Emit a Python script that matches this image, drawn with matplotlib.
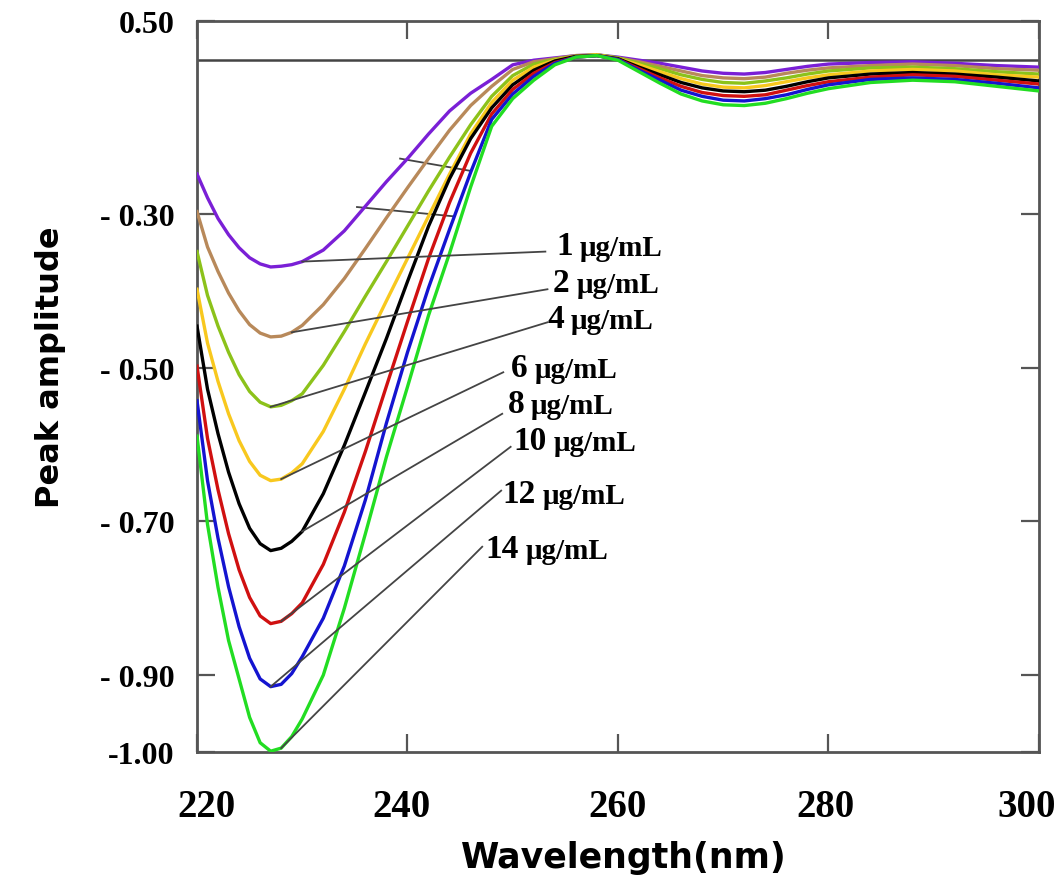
import matplotlib
matplotlib.use("Agg")
import matplotlib.pyplot as plt
import matplotlib.transforms as mtransforms

# wavelength grid (nm) and derivative amplitude
wavelength = [220, 221, 222, 223, 224, 225, 226, 227, 228, 229, 230, 232, 234, 236, 238,
              240, 242, 244, 246, 248, 250, 252, 254, 256, 258, 260, 262, 264, 266, 268,
              270, 272, 274, 276, 278, 280, 284, 288, 292, 296, 300]

amp_1 = [-0.248, -0.279, -0.306, -0.327, -0.344, -0.357, -0.365, -0.369, -0.368, -0.366,
         -0.362, -0.347, -0.322, -0.290, -0.258, -0.228, -0.196, -0.166, -0.143, -0.125,
         -0.106, -0.100, -0.097, -0.094, -0.093, -0.096, -0.100, -0.104, -0.109, -0.114,
         -0.117, -0.118, -0.116, -0.112, -0.108, -0.105, -0.103, -0.102, -0.104, -0.107, -0.109]
amp_2 = [-0.297, -0.343, -0.375, -0.403, -0.426, -0.444, -0.455, -0.460, -0.459, -0.454,
         -0.445, -0.418, -0.384, -0.345, -0.305, -0.266, -0.228, -0.191, -0.159, -0.134,
         -0.112, -0.102, -0.098, -0.094, -0.093, -0.097, -0.102, -0.108, -0.114, -0.120,
         -0.123, -0.124, -0.122, -0.117, -0.113, -0.110, -0.107, -0.105, -0.107, -0.111, -0.113]
amp_4 = [-0.349, -0.406, -0.446, -0.480, -0.509, -0.531, -0.545, -0.551, -0.549, -0.543,
         -0.534, -0.497, -0.453, -0.407, -0.362, -0.316, -0.270, -0.226, -0.184, -0.147,
         -0.120, -0.105, -0.099, -0.095, -0.093, -0.097, -0.104, -0.111, -0.119, -0.125,
         -0.129, -0.130, -0.127, -0.123, -0.118, -0.114, -0.110, -0.109, -0.111, -0.115, -0.118]
amp_6 = [-0.398, -0.468, -0.518, -0.560, -0.595, -0.622, -0.640, -0.647, -0.645, -0.637,
         -0.625, -0.583, -0.528, -0.469, -0.413, -0.358, -0.303, -0.248, -0.196, -0.155,
         -0.126, -0.109, -0.100, -0.095, -0.093, -0.098, -0.106, -0.115, -0.124, -0.131,
         -0.135, -0.136, -0.133, -0.128, -0.123, -0.119, -0.114, -0.112, -0.114, -0.119, -0.122]
amp_8 = [-0.446, -0.528, -0.586, -0.636, -0.677, -0.709, -0.729, -0.738, -0.735, -0.726,
         -0.713, -0.664, -0.601, -0.532, -0.462, -0.388, -0.316, -0.254, -0.202, -0.162,
         -0.132, -0.113, -0.101, -0.095, -0.094, -0.098, -0.109, -0.119, -0.129, -0.136,
         -0.140, -0.141, -0.139, -0.134, -0.128, -0.123, -0.118, -0.116, -0.118, -0.122, -0.127]
amp_10 = [-0.498, -0.592, -0.659, -0.716, -0.763, -0.799, -0.823, -0.833, -0.830, -0.820,
          -0.806, -0.756, -0.688, -0.609, -0.524, -0.440, -0.358, -0.285, -0.221, -0.170,
          -0.138, -0.117, -0.103, -0.096, -0.094, -0.099, -0.111, -0.123, -0.134, -0.142,
          -0.146, -0.147, -0.145, -0.139, -0.133, -0.128, -0.122, -0.119, -0.121, -0.126, -0.131]
amp_12 = [-0.543, -0.647, -0.722, -0.785, -0.837, -0.878, -0.905, -0.915, -0.912, -0.898,
          -0.876, -0.826, -0.758, -0.672, -0.572, -0.480, -0.396, -0.320, -0.246, -0.177,
          -0.144, -0.121, -0.104, -0.096, -0.094, -0.099, -0.113, -0.126, -0.139, -0.147,
          -0.152, -0.153, -0.150, -0.145, -0.138, -0.132, -0.125, -0.123, -0.125, -0.130, -0.136]
amp_14 = [-0.589, -0.704, -0.786, -0.855, -0.905, -0.955, -0.988, -0.999, -0.995, -0.980,
          -0.957, -0.900, -0.813, -0.716, -0.616, -0.525, -0.432, -0.351, -0.265, -0.186,
          -0.150, -0.126, -0.106, -0.096, -0.094, -0.100, -0.115, -0.130, -0.144, -0.153,
          -0.158, -0.159, -0.156, -0.150, -0.143, -0.137, -0.129, -0.126, -0.128, -0.134, -0.140]

series = [amp_1, amp_2, amp_4, amp_6, amp_8, amp_10, amp_12, amp_14]
conc_labels = ["1", "2", "4", "6", "8", "10", "12", "14"]
colors = ["#7a1fd6", "#b8895a", "#8cc21a", "#f8c81e", "#000000", "#d01010", "#1414d0", "#22dd22"]

# where each leader line leaves its curve (nm) and where the label sits (nm, amplitude)
leader_start_wl = [230, 229, 227, 228, 230, 228, 227, 228]
leader_end = [(253.1, -0.349), (253.3, -0.398), (253.3, -0.441), (249.1, -0.506),
              (249.0, -0.560), (249.8, -0.603), (248.9, -0.660), (247.1, -0.733)]
label_pos = [(254.1, -0.352), (253.8, -0.400), (253.3, -0.447), (249.8, -0.511),
             (249.5, -0.558), (250.1, -0.606), (249.0, -0.675), (247.4, -0.746)]

ytick_vals = [-1.0, -0.9, -0.7, -0.5, -0.3, -0.049]
ytick_text = ["-1.00", "- 0.90", "- 0.70", "- 0.50", "- 0.30", "0.50"]
xtick_vals = [220, 240, 260, 280, 300]
xtick_shift = [9, -6, 0, -3, -12]  # pixel nudges of the tick labels as in the original

fig = plt.figure(figsize=(10.62, 8.95), dpi=100)
ax = fig.add_axes([0.1855, 0.1587, 0.7928, 0.8167])

# baseline
ax.axhline(-0.10, color="#444444", lw=1.8, zorder=1)

for amp, col in zip(series, colors):
    ax.plot(wavelength, amp, color=col, lw=2.4, zorder=3)

# stray leader lines left over in the original figure
ax.plot([239.3, 246.0], [-0.228, -0.244], color="#444444", lw=1.3, zorder=2)
ax.plot([235.2, 244.3], [-0.291, -0.303], color="#444444", lw=1.3, zorder=2)

serif = "Liberation Serif"
for i, amp in enumerate(series):
    wl0 = leader_start_wl[i]
    y0 = amp[wavelength.index(wl0)]
    x1, y1 = leader_end[i]
    ax.plot([wl0, x1], [y0, y1], color="#444444", lw=1.3, zorder=4)
    lx, ly = label_pos[i]
    num = ax.text(lx, ly, conc_labels[i], family=serif, weight="bold", fontsize=24,
                  ha="left", va="baseline", zorder=5)
    ax.annotate("\u03bcg/mL", xy=(1, 0), xycoords=num, xytext=(5, 0),
                textcoords="offset points", family=serif, weight="bold",
                fontsize=21, ha="left", va="bottom", zorder=5)

ax.set_xlim(220, 300)
ax.set_ylim(-1.0, -0.049)
ax.set_xticks(xtick_vals)
ax.set_xticklabels([str(v) for v in xtick_vals])
ax.set_yticks(ytick_vals)
ax.set_yticklabels(ytick_text)

ax.tick_params(axis="both", direction="in", length=13, width=1.6, color="#555555",
               top=True, right=True)
ax.tick_params(axis="x", pad=26)
ax.tick_params(axis="y", pad=16)
for lab, dx in zip(ax.get_xticklabels(), xtick_shift):
    lab.set_family(serif)
    lab.set_weight("bold")
    lab.set_fontsize(28)
    lab.set_transform(lab.get_transform() +
                      mtransforms.ScaledTranslation(dx / 100, 0, fig.dpi_scale_trans))
for lab in ax.get_yticklabels():
    lab.set_family(serif)
    lab.set_weight("bold")
    lab.set_fontsize(23)

for sp in ax.spines.values():
    sp.set_color("#555555")
    sp.set_linewidth(2)

fig.text(624 / 1062, 1 - 858 / 895, "Wavelength(nm)", family="DejaVu Sans",
         weight="bold", fontsize=25, ha="center", va="center")
fig.text(50 / 1062, 1 - 367 / 895, "Peak amplitude", family="DejaVu Sans",
         weight="bold", fontsize=23, ha="center", va="center", rotation=90)

fig.savefig("out.png", dpi=100)
plt.close(fig)
